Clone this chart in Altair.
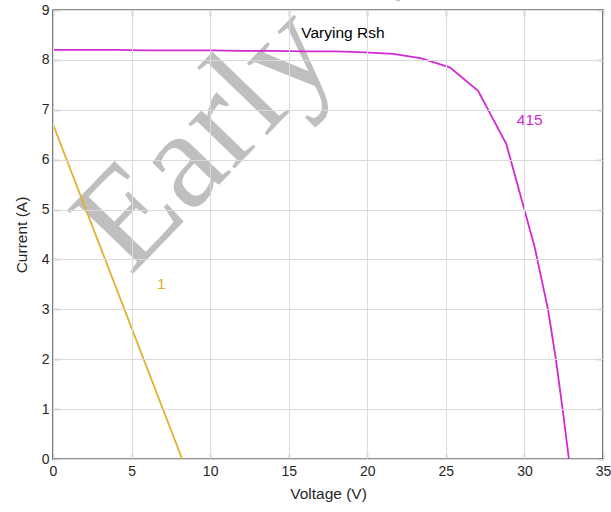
import altair as alt
import pandas as pd

# Series: R_sh = 415 ohm (magenta) and R_sh = 1 ohm (yellow)
v_415 = [0, 2, 4, 6, 8, 10, 12, 14, 16, 18, 19.85, 21.65, 23.45, 25.25, 27.05, 28.85, 30.65, 31.5, 32.0, 32.45, 32.83]
i_415 = [8.2, 8.2, 8.2, 8.19, 8.19, 8.19, 8.18, 8.18, 8.17, 8.17, 8.15, 8.12, 8.03, 7.85, 7.38, 6.31, 4.25, 3.0, 2.0, 0.95, 0.0]
v_1 = [0, 8.22]
i_1 = [6.71, 0.0]

series_names = ["415", "1"]
series_colors = ["#d22ad2", "#e0b12e"]

label_text = ["415", "1"]
label_v = [30.34, 6.9]
label_i = [6.8, 3.5]

title_text = ["Varying Rsh"]
title_v = [18.45]
title_i = [8.53]

wm_text = ["Early View"]
wm_v = [4.9]
wm_i = [3.65]

x_ticks = [0, 5, 10, 15, 20, 25, 30, 35]
y_ticks = [0, 1, 2, 3, 4, 5, 6, 7, 8, 9]

rows = []
for v, i in zip(v_415, i_415):
    rows.append({"V": v, "I": i, "s": "415"})
for v, i in zip(v_1, i_1):
    rows.append({"V": v, "I": i, "s": "1"})
lines_df = pd.DataFrame(rows)
labels_df = pd.DataFrame({"V": label_v, "I": label_i, "t": label_text})
title_df = pd.DataFrame({"V": title_v, "I": title_i, "t": title_text})
wm_df = pd.DataFrame({"V": wm_v, "I": wm_i, "t": wm_text})

FONT = "Liberation Sans"
xs = alt.Scale(domain=[0, 35], nice=False, zero=False)
ys = alt.Scale(domain=[0, 9], nice=False, zero=False)
color_scale = alt.Scale(domain=series_names, range=series_colors)

# grid-only axes
grid_x = alt.Axis(orient="bottom", grid=True, gridColor="#dadada", gridWidth=1, ticks=False,
                  labels=False, domain=False, title=None, values=x_ticks, zindex=1)
grid_y = alt.Axis(orient="left", grid=True, gridColor="#dadada", gridWidth=1, ticks=False,
                  labels=False, domain=False, title=None, values=y_ticks, zindex=1)

grid_layer = alt.Chart(title_df).mark_text(text="", opacity=0).encode(
    x=alt.X("V:Q", scale=xs, axis=grid_x),
    y=alt.Y("I:Q", scale=ys, axis=grid_y),
)

title_layer = alt.Chart(title_df).mark_text(
    font=FONT, fontSize=15.5, color="#000000", baseline="middle", align="center"
).encode(
    x=alt.X("V:Q", scale=xs, axis=alt.Axis(orient="top", grid=False, labels=False, domain=False,
                                            ticks=True, tickSize=6, offset=-6, tickColor="#262626",
                                            tickWidth=1.2, title=None, values=x_ticks)),
    y=alt.Y("I:Q", scale=ys, axis=alt.Axis(orient="right", grid=False, labels=False, domain=False,
                                            ticks=True, tickSize=6, offset=-6, tickColor="#262626",
                                            tickWidth=1.2, title=None, values=y_ticks)),
    text="t:N",
)

wm_layer = alt.Chart(wm_df).mark_text(
    font="Liberation Serif", fontSize=140, color="#bfbfbf", angle=314,
    align="left", baseline="alphabetic"
).encode(
    x=alt.X("V:Q", scale=xs, axis=None),
    y=alt.Y("I:Q", scale=ys, axis=None),
    text="t:N",
)

line_layer = alt.Chart(lines_df).mark_line(strokeWidth=1.8).encode(
    x=alt.X("V:Q", scale=xs, axis=alt.Axis(orient="bottom", grid=False, domain=False, ticks=True,
                                            tickSize=6, offset=-6, tickColor="#262626", tickWidth=1.2,
                                            values=x_ticks, labelFont=FONT, labelFontSize=14,
                                            labelColor="#262626", labelPadding=5, labelFlush=False,
                                            title="Voltage (V)", titleFont=FONT, titleFontSize=15.5,
                                            titleFontWeight="normal", titleColor="#262626",
                                            titlePadding=8)),
    y=alt.Y("I:Q", scale=ys, axis=alt.Axis(orient="left", grid=False, domain=False, ticks=True,
                                            tickSize=6, offset=-6, tickColor="#262626", tickWidth=1.2,
                                            values=y_ticks, labelFont=FONT, labelFontSize=14,
                                            labelColor="#262626", labelPadding=4, labelFlush=False,
                                            title="Current (A)", titleFont=FONT, titleFontSize=15.5,
                                            titleFontWeight="normal", titleColor="#262626",
                                            titlePadding=12)),
    color=alt.Color("s:N", scale=color_scale, legend=None),
    order=alt.Order("V:Q"),
    detail="s:N",
)

label_layer = alt.Chart(labels_df).mark_text(
    font=FONT, fontSize=15.5, baseline="middle", align="center"
).encode(
    x=alt.X("V:Q", scale=xs, axis=None),
    y=alt.Y("I:Q", scale=ys, axis=None),
    text="t:N",
    color=alt.Color("t:N", scale=color_scale, legend=None),
)

chart = alt.layer(grid_layer, title_layer, wm_layer, line_layer, label_layer).resolve_axis(
    x="independent", y="independent"
).properties(
    width=550, height=449,
    padding={"left": 53, "top": 10, "right": 8, "bottom": 53},
    autosize=alt.AutoSizeParams(type="none"),
    background="#ffffff",
).configure_view(stroke="#262626", strokeWidth=1.4)

chart.save("out.html", embed_options={"renderer": "svg", "actions": False})
